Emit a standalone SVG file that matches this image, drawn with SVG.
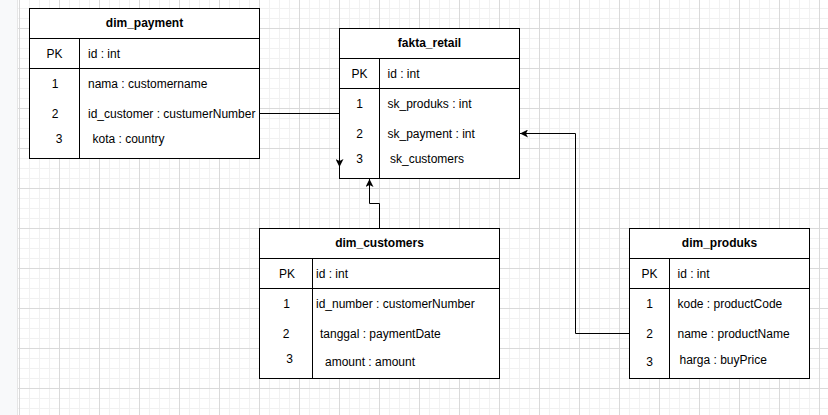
<svg xmlns="http://www.w3.org/2000/svg" width="828" height="415" viewBox="0 0 828 415">
<defs>
<pattern id="minor" width="10" height="10" patternUnits="userSpaceOnUse" x="19" y="8">
<path d="M0.5 0V10M0 0.5H10" fill="none" stroke="#f1f1f1" stroke-width="1"/>
</pattern>
<pattern id="major" width="40" height="40" patternUnits="userSpaceOnUse" x="19" y="28">
<path d="M0.5 0V40M0 0.5H40" fill="none" stroke="#dadada" stroke-width="1"/>
</pattern>
<marker id="arrow" markerUnits="userSpaceOnUse" markerWidth="8" markerHeight="8" viewBox="0 0 8 8" refX="8" refY="4" orient="auto">
<path d="M0,0 L8,4 L0,8 L2,4 Z" fill="#000"/>
</marker>
<style>
.box{fill:#fff;stroke:#000;stroke-width:1}
.ln{stroke:#000;stroke-width:1;fill:none}
.edge{stroke:#000;stroke-width:1;fill:none;marker-end:url(#arrow)}
text{font-family:"Liberation Sans",Arial,sans-serif;font-size:12px;fill:#000}
.h{font-weight:bold;text-anchor:middle}
.c{text-anchor:middle}
</style>
</defs>
<rect x="0" y="0" width="828" height="415" fill="#fff"/>
<rect x="18" y="0" width="810" height="415" fill="url(#minor)"/>
<rect x="18" y="0" width="810" height="415" fill="url(#major)"/>
<rect x="0" y="0" width="17" height="415" fill="#f8f9fa"/>
<line x1="17.5" y1="0" x2="17.5" y2="415" stroke="#e6e6e6"/>

<g id="dim_payment">
<rect class="box" x="29.5" y="8.5" width="230" height="150"/>
<path class="ln" d="M29.5 38.5H259.5M29.5 68.5H259.5M79.5 38.5V158.5"/>
<text class="h" x="144.5" y="27">dim_payment</text>
<text class="c" x="54.5" y="57.5">PK</text>
<text x="88" y="57.5">id : int</text>
<text class="c" x="55" y="87.5">1</text>
<text x="88" y="87.5">nama : customername</text>
<text class="c" x="55" y="117.5">2</text>
<text x="88" y="117.5">id_customer : custumerNumber</text>
<text class="c" x="59" y="142.5">3</text>
<text x="92.5" y="142.5">kota : country</text>
</g>

<g id="fakta_retail">
<rect class="box" x="339.5" y="28.5" width="180" height="150"/>
<path class="ln" d="M339.5 58.5H519.5M339.5 88.5H519.5M379.5 58.5V178.5"/>
<text class="h" x="429.5" y="47">fakta_retail</text>
<text class="c" x="359.5" y="77.5">PK</text>
<text x="387.5" y="77.5">id : int</text>
<text class="c" x="359.5" y="107.5">1</text>
<text x="387.5" y="107.5">sk_produks : int</text>
<text class="c" x="359.5" y="137.5">2</text>
<text x="387.5" y="137.5">sk_payment : int</text>
<text class="c" x="359.5" y="162.5">3</text>
<text x="390" y="162.5">sk_customers</text>
</g>

<g id="dim_customers">
<rect class="box" x="259.5" y="228.5" width="240" height="150"/>
<path class="ln" d="M259.5 258.5H499.5M259.5 288.5H499.5M312.5 258.5V378.5"/>
<text class="h" x="379.5" y="247">dim_customers</text>
<text class="c" x="287" y="277.5">PK</text>
<text x="316" y="277.5">id : int</text>
<text class="c" x="286.5" y="307.5">1</text>
<text x="316" y="307.5">id_number : customerNumber</text>
<text class="c" x="286" y="337.5">2</text>
<text x="320" y="337.5">tanggal : paymentDate</text>
<text class="c" x="289.5" y="362.5">3</text>
<text x="325" y="366">amount : amount</text>
</g>

<g id="dim_produks">
<rect class="box" x="629.5" y="228.5" width="180" height="150"/>
<path class="ln" d="M629.5 258.5H809.5M629.5 288.5H809.5M669.5 258.5V378.5"/>
<text class="h" x="719.5" y="247">dim_produks</text>
<text class="c" x="649.5" y="277.5">PK</text>
<text x="677.5" y="277.5">id : int</text>
<text class="c" x="649.5" y="307.5">1</text>
<text x="677.5" y="307.5">kode : productCode</text>
<text class="c" x="649.5" y="337.5">2</text>
<text x="677.5" y="337.5">name : productName</text>
<text class="c" x="649.5" y="366">3</text>
<text x="679.5" y="363.5">harga : buyPrice</text>
</g>

<g id="connectors">
<path class="edge" d="M259.5 113.5H339.5V167"/>
<path class="edge" d="M379.5 228.5V203.5H369.5V179"/>
<path class="edge" d="M629.5 333.5H575.5V133.5H520"/>
</g>
</svg>
